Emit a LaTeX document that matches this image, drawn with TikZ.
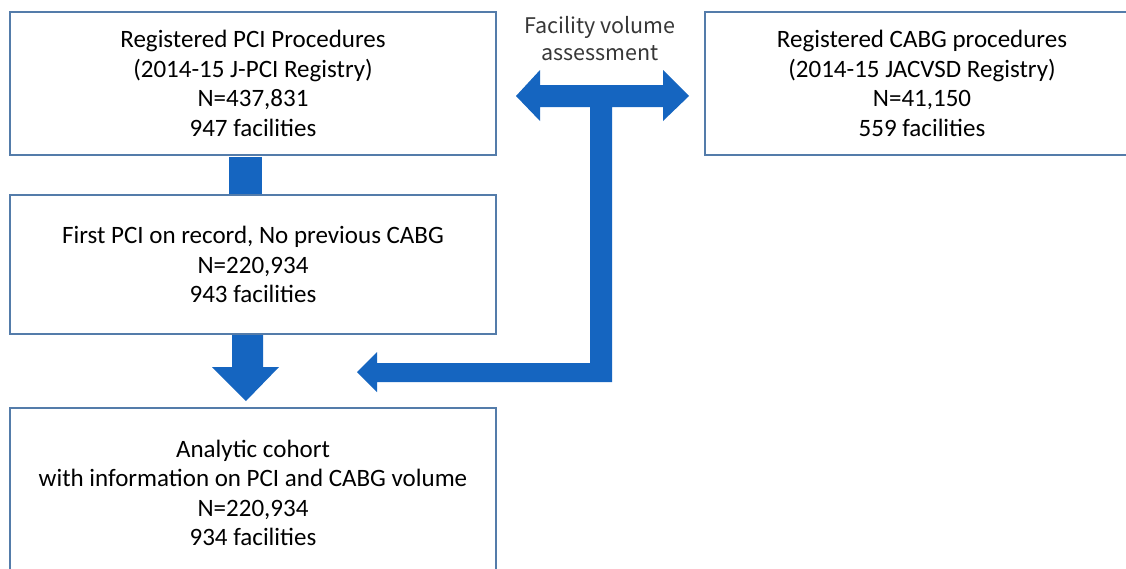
\documentclass[tikz,border=0pt]{standalone}
\usepackage{fontspec}
\setmainfont{Carlito}
\newfontfamily\labfont{Noto Sans CJK JP}
\definecolor{arrowblue}{RGB}{21,101,192}
\definecolor{boxedge}{RGB}{84,124,170}
\definecolor{labgray}{RGB}{55,55,55}
\tikzset{
  flowbox/.style={draw=boxedge, line width=1.2pt, fill=white, align=center,
    font=\fontsize{25}{29.5}\selectfont, inner sep=0pt},
  blockarrow/.style={fill=arrowblue, draw=none},
  sidelabel/.style={align=center, text=labgray, font=\labfont\fontsize{21.5}{27}\selectfont, inner sep=0pt}
}
\begin{document}
\begin{tikzpicture}[x=1pt,y=-1pt]
\useasboundingbox (0,0) rectangle (1126,568);
\clip (0,0) rectangle (1126,568);
\fill[white] (0,0) rectangle (1126,568);
% boxes
\node[flowbox, minimum width=486pt, minimum height=143pt] (pci) at (253,83.5)
  {Registered PCI Procedures\\(2014-15 J-PCI Registry)\\N=437,831\\947 facilities};
\node[flowbox, minimum width=434pt, minimum height=143pt] (cabg) at (922,83.5)
  {Registered CABG procedures\\(2014-15 JACVSD Registry)\\N=41,150\\559 facilities};
\node[flowbox, minimum width=486pt, minimum height=139pt] (first) at (253,264.5)
  {First PCI on record, No previous CABG\\N=220,934\\943 facilities};
\node[flowbox, minimum width=486pt, minimum height=170pt] (cohort) at (253,493)
  {Analytic cohort\\with information on PCI and CABG volume\\N=220,934\\934 facilities};
% label
\node[sidelabel] (lab) at (600,39) {Facility volume\\assessment};
% small connector block between pci and first
\fill[blockarrow] (229,157) rectangle (262,194);
% down arrow between first and cohort
\fill[blockarrow] (232,335) -- (263,335) -- (263,367) -- (279,367) -- (246,401)
  -- (212,367) -- (232,367) -- cycle;
% T-shaped double arrow and elbow arrow
\fill[blockarrow] (516,96) -- (540,70) -- (540,85) -- (663,85) -- (663,70) -- (689,96)
  -- (663,121) -- (663,107) -- (612,107) -- (612,382) -- (377,382) -- (377,392)
  -- (357,372) -- (377,352) -- (377,363) -- (590,363) -- (590,107) -- (540,107)
  -- (540,121) -- cycle;
\end{tikzpicture}
\end{document}
